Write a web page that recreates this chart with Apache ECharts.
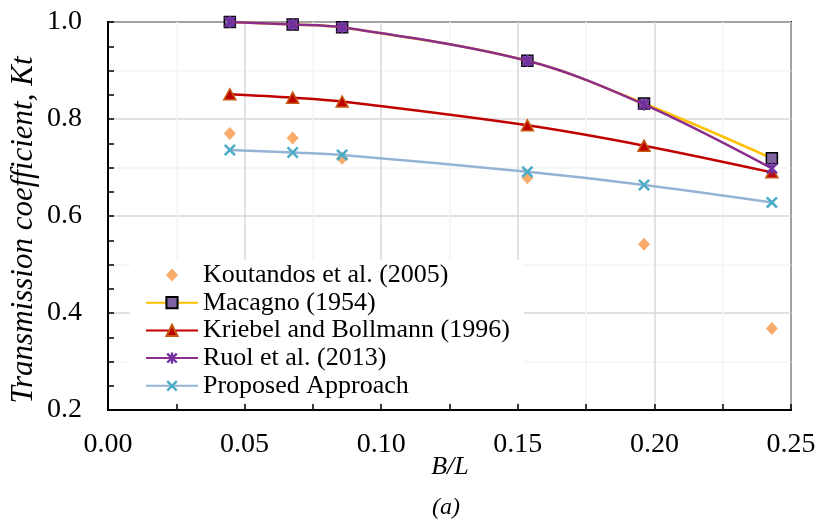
<!DOCTYPE html>
<html>
<head>
<meta charset="utf-8">
<script src="https://cdn.jsdelivr.net/npm/echarts@6/dist/echarts.min.js"></script>
<style>
  html, body { margin: 0; padding: 0; background: #fff; }
  #chart { width: 819px; height: 525px; }
</style>
</head>
<body>
<div id="chart"></div>
<script>
// Relative breakwater width B/L and transmission coefficient Kt
const bl = [0.0446, 0.0676, 0.0857, 0.1535, 0.1962, 0.243];
const koutandos = [0.770, 0.761, 0.719, 0.679, 0.542, 0.368];
const macagno = [1.000, 0.995, 0.989, 0.920, 0.832, 0.719];
const kriebel = [0.851, 0.844, 0.836, 0.787, 0.745, 0.690];
const ruol = [1.000, 0.995, 0.989, 0.920, 0.830, 0.698];
const proposed = [0.736, 0.731, 0.726, 0.691, 0.664, 0.628];

const seriesNames = [
  'Koutandos et al. (2005)',
  'Macagno (1954)',
  'Kriebel and Bollmann (1996)',
  'Ruol et al. (2013)',
  'Proposed Approach'
];

const pairs = ys => bl.map((x, i) => [x, ys[i]]);

// asterisk (x plus vertical bar) and plain cross glyphs
const asterisk = 'path://M-4.707,-3.293L3.293,4.707L4.707,3.293L-3.293,-4.707Z' +
  'M-3.293,4.707L4.707,-3.293L3.293,-4.707L-4.707,3.293Z' +
  'M-1,-5L-1,5L1,5L1,-5Z';
const cross = 'path://M-5.884,-4.116L4.116,5.884L5.884,4.116L-4.116,-5.884Z' +
  'M-4.116,5.884L5.884,-4.116L4.116,-5.884L-5.884,4.116Z';
// legend key for the scatter series: a diamond centred in a 52x14 box
const diamondKey = 'path://M-26,-7L-26,-7ZM26,7L26,7ZM0,-6.5L6,0L0,6.5L-6,0Z';

const serif = 'Liberation Serif';

const chart = echarts.init(document.getElementById('chart'), null, { renderer: 'canvas' });

chart.setOption({
  animation: false,
  backgroundColor: '#fff',
  textStyle: { fontFamily: serif },
  grid: {
    left: 108, right: 28, top: 22, bottom: 115,
    show: true, borderColor: '#000', borderWidth: 2
  },
  legend: {
    orient: 'vertical',
    left: 130, top: 260,
    padding: [2, 14, 4, 15],
    backgroundColor: '#fff',
    itemWidth: 52, itemHeight: 14, itemGap: 1.7,
    textStyle: { fontFamily: serif, fontSize: 26, color: '#000', lineHeight: 26 },
    data: [
      { name: seriesNames[0], icon: diamondKey },
      seriesNames[1], seriesNames[2], seriesNames[3], seriesNames[4]
    ]
  },
  xAxis: {
    type: 'value', min: 0, max: 0.25, interval: 0.025,
    axisLine: { show: true, lineStyle: { color: '#000', width: 2 } },
    axisTick: { show: true, inside: true, length: 6, lineStyle: { color: '#000', width: 1.5 } },
    axisLabel: {
      fontFamily: serif, fontSize: 28, color: '#000', margin: 21,
      formatter: v => (Math.round(v * 1000) % 50 === 0 ? v.toFixed(2) : '')
    },
    splitLine: { show: true, lineStyle: { color: ['#d9d9d9', '#f4f4f4'], width: 1.5 } }
  },
  yAxis: {
    type: 'value', min: 0.2, max: 1.0, interval: 0.1,
    axisLine: { show: true, lineStyle: { color: '#000', width: 2 } },
    axisTick: { show: true, inside: true, length: 6, lineStyle: { color: '#000', width: 1.5 } },
    minorTick: { show: true, splitNumber: 2, length: 6, lineStyle: { color: '#000', width: 1.5 } },
    axisLabel: {
      fontFamily: serif, fontSize: 28, color: '#000', margin: 26,
      formatter: v => (Math.round(v * 10) % 2 === 0 ? v.toFixed(1) : '')
    },
    splitLine: { show: true, lineStyle: { color: ['#d9d9d9', '#f4f4f4'], width: 1.5 } }
  },
  graphic: [
    {
      type: 'text', x: 23.5, y: 230, rotation: Math.PI / 2,
      style: {
        text: 'Transmission coefficient, Kt',
        font: 'italic 31px "Liberation Serif"', fill: '#000',
        align: 'center', verticalAlign: 'middle'
      }
    },
    {
      type: 'text', x: 450, y: 467,
      style: {
        text: 'B/L', font: 'italic 26px "Liberation Serif"', fill: '#000',
        align: 'center', verticalAlign: 'middle'
      }
    },
    {
      type: 'text', x: 446, y: 508,
      style: {
        text: '(a)', font: 'italic 24px "Liberation Serif"', fill: '#000',
        align: 'center', verticalAlign: 'middle'
      }
    }
  ],
  series: [
    {
      name: seriesNames[0], type: 'scatter', data: pairs(koutandos),
      symbol: 'diamond', symbolSize: [12, 13],
      itemStyle: { color: '#F79646' }, z: 2
    },
    {
      name: seriesNames[1], type: 'line', data: pairs(macagno), smooth: 0.35,
      symbol: 'rect', symbolSize: 11,
      lineStyle: { color: '#FFC000', width: 2.5 },
      itemStyle: { color: '#8064A2', borderColor: '#000', borderWidth: 1.5 }, z: 3
    },
    {
      name: seriesNames[2], type: 'line', data: pairs(kriebel), smooth: 0.35,
      symbol: 'triangle', symbolSize: [12, 11],
      lineStyle: { color: '#C00000', width: 2.5 },
      itemStyle: { color: '#C00000', borderColor: '#C55A11', borderWidth: 1.5 }, z: 4
    },
    {
      name: seriesNames[3], type: 'line', data: pairs(ruol), smooth: 0.35,
      symbol: asterisk, symbolSize: 12,
      lineStyle: { color: '#8A2D8C', width: 2.5 },
      itemStyle: { color: '#7030A0' }, z: 5
    },
    {
      name: seriesNames[4], type: 'line', data: pairs(proposed), smooth: 0.35,
      symbol: cross, symbolSize: 12,
      lineStyle: { color: '#95B3D7', width: 2.5 },
      itemStyle: { color: '#4BACC6' }, z: 6
    }
  ]
});
</script>
</body>
</html>
